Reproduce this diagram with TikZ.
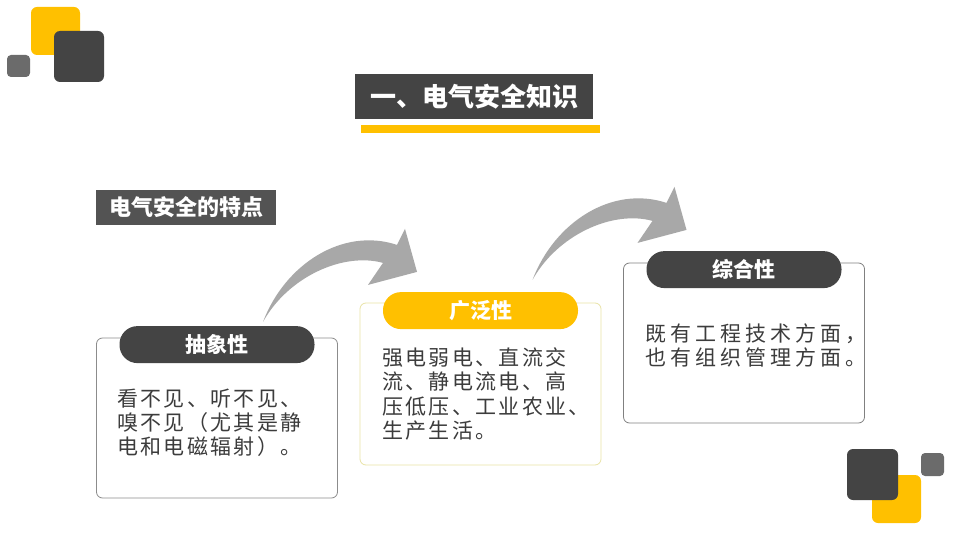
\documentclass[tikz,border=0pt]{standalone}
\usepackage{fontspec}
\newfontfamily\cjk{Noto Sans CJK SC}
\newfontfamily\cjkbody[LetterSpace=11]{Noto Sans CJK SC}
\newfontfamily\cjkwide[LetterSpace=19]{Noto Sans CJK SC}
\usepackage{tikz}
\usetikzlibrary{positioning}
\usetikzlibrary{calc}

\definecolor{darkgrey}{HTML}{444444}
\definecolor{midgrey}{HTML}{6B6B6B}
\definecolor{arrowgrey}{HTML}{A8A8A8}
\definecolor{goldyellow}{HTML}{FFC000}
\definecolor{paleyellow}{HTML}{E9E3A6}
\definecolor{bodytext}{HTML}{3C3C3C}

\tikzset{
  card/.style={draw=#1, line width=0.8pt, rounded corners=6pt, fill=white,
    minimum width=241pt, minimum height=160pt},
  pill/.style={fill=#1, rounded corners=18pt, minimum width=195pt,
    minimum height=37pt, inner sep=0pt, text=white,
    font=\cjk\bfseries\fontsize{21pt}{21pt}\selectfont},
  bodytxt/.style={anchor=north west, inner sep=0pt, align=left, text=bodytext,
    font=\cjkbody\fontsize{21pt}{24pt}\selectfont},
  tile/.style={fill=#1, rounded corners=6pt},
  swoosh/.pic={
    \fill[arrowgrey] (0,0) .. controls (22,-58) and (80,-95) .. (134,-77)
      -- (142,-93) -- (154,-50) -- (105,-37) -- (120,-59)
      .. controls (80,-70) and (25,-45) .. (0,0) -- cycle;
  }
}

\begin{document}
\begin{tikzpicture}[x=1pt,y=-1pt]
        \useasboundingbox[fill=white] (0,0) rectangle (960,540);

        % corner tiles
        \fill[tile=goldyellow] (31,7) rectangle (80,55);
        \fill[tile=darkgrey] (54,31) rectangle (104,82);
        \fill[tile=midgrey, rounded corners=4pt] (7,55) rectangle (30,77);
        \fill[tile=goldyellow] (872,475) rectangle (921,523);
        \fill[tile=darkgrey] (847,449) rectangle (898,500);
        \fill[tile=midgrey, rounded corners=4pt] (921,453) rectangle (944,476);

        % title
        \node[fill=darkgrey, minimum width=238pt, minimum height=45pt, text=white,
          font=\cjk\bfseries\fontsize{26pt}{26pt}\selectfont] (title) at (474,96.5) {一、电气安全知识};
        \fill[goldyellow] (361,125) rectangle (600,133);

        \node[fill=darkgrey!92, minimum width=180pt, minimum height=35pt, text=white,
          font=\cjk\bfseries\fontsize{22pt}{22pt}\selectfont] (subtitle) at (186,207.5) {电气安全的特点};

        % the three cards
        \node[card=black!45] (abstract) at (217,418) {};
        \node[card=paleyellow, minimum height=162pt] (broad) at (480.5,384) {};
        \node[card=black!50] (overall) at (744,343) {};

        \node[pill=darkgrey] (pillA) at ([yshift=-7pt]abstract.north) {抽象性};
        \node[pill=goldyellow] (pillB) at ([yshift=-8pt]broad.north) {广泛性};
        \node[pill=darkgrey] (pillC) at ([yshift=-7pt]overall.north) {综合性};

        \node[bodytxt] (textA) at (117,389) {看不见、听不见、\\嗅不见（尤其是静\\电和电磁辐射）。};
        \node[bodytxt, font=\cjkbody\fontsize{21pt}{24.5pt}\selectfont] (textB) at (382,347)
          {强电弱电、直流交\\流、静电流电、高\\压低压、工业农业、\\生产生活。};
        \node[bodytxt, font=\cjkwide\fontsize{21pt}{24pt}\selectfont] (textC) at (645,324)
          {既有工程技术方面，\\也有组织管理方面。};

        % curved arrows between the cards
        \coordinate (fromA) at ([xshift=46pt,yshift=4pt]pillA.north);
        \coordinate (fromB) at ([xshift=52pt,yshift=12pt]pillB.north);
        \pic at (fromA) {swoosh};
        \pic at (fromB) {swoosh};
\end{tikzpicture}
\end{document}
